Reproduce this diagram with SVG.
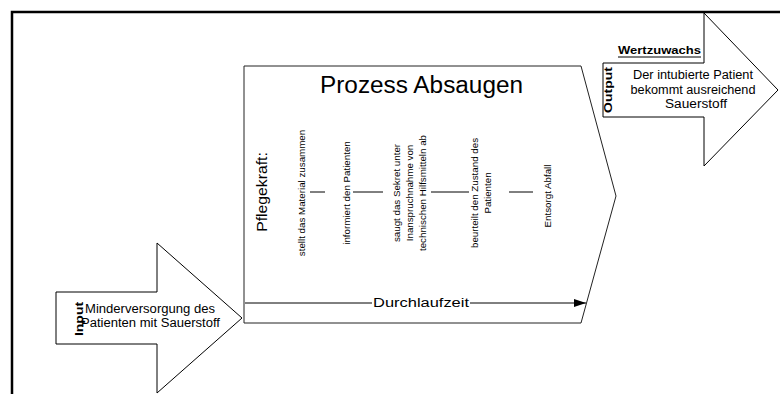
<svg xmlns="http://www.w3.org/2000/svg" width="780" height="394" viewBox="0 0 780 394">
  <style>
    text { font-family: "Liberation Sans", Arial, sans-serif; fill: #000; }
    .shape { fill: #fff; stroke: #000; stroke-width: 1; }
    .proc { fill: #fff; stroke: #222; stroke-width: 1; }
    .frame { fill: none; stroke: #000; stroke-width: 2.5; }
    .title { font-size: 23px; }
    .body { font-size: 12.5px; }
    .bold { font-weight: bold; }
    .step { font-size: 8.5px; }
    .conn { stroke: #000; stroke-width: 1; fill: none; }
  </style>
  <defs>
    <marker id="arrowhead" viewBox="0 0 12 8" refX="12" refY="4" markerWidth="12" markerHeight="8" markerUnits="userSpaceOnUse" orient="auto">
      <path d="M0,0 L12,4 L0,8 Z" fill="#000"/>
    </marker>
  </defs>

  <rect width="780" height="394" fill="#fff"/>

  <!-- outer frame -->
  <path class="frame" d="M12,394 V12 H780"/>

  <!-- input arrow -->
  <g id="input">
    <path class="shape" d="M56,292 H157 V243 L242,318 L157,393 V344 H56 Z"/>
    <text class="bold" font-size="10" transform="translate(83,319) rotate(-90) scale(1.4,1)" text-anchor="middle">Input</text>
    <text class="body" x="85" y="313" textLength="130" lengthAdjust="spacingAndGlyphs">Minderversorgung des</text>
    <text class="body" x="81" y="327" textLength="139" lengthAdjust="spacingAndGlyphs">Patienten mit Sauerstoff</text>
  </g>

  <!-- process -->
  <g id="process">
    <path class="proc" d="M244,66 H581 L616,196 L581,323 H244 Z"/>
    <text class="title" x="421.5" y="93" text-anchor="middle" textLength="203" lengthAdjust="spacingAndGlyphs">Prozess Absaugen</text>
    <text font-size="15" transform="translate(267,192) rotate(-90) scale(1.05,1)" text-anchor="middle">Pflegekraft:</text>
  </g>

  <g id="step1">
    <text class="step" transform="translate(305,193) rotate(-90) scale(1.15,1)" text-anchor="middle">stellt das Material zusammen</text>
  </g>
  <g id="step2">
    <text class="step" transform="translate(350,193) rotate(-90) scale(1.15,1)" text-anchor="middle">informiert den Patienten</text>
  </g>
  <g id="step3">
    <text class="step" transform="translate(400,193) rotate(-90) scale(1.15,1)" text-anchor="middle">saugt das Sekret unter</text>
    <text class="step" transform="translate(413,193) rotate(-90) scale(1.15,1)" text-anchor="middle">Inanspruchnahme von</text>
    <text class="step" transform="translate(426,193) rotate(-90) scale(1.15,1)" text-anchor="middle">technischen Hilfsmitteln ab</text>
  </g>
  <g id="step4">
    <text class="step" transform="translate(478,193) rotate(-90) scale(1.15,1)" text-anchor="middle">beurteilt den Zustand des</text>
    <text class="step" transform="translate(491,193) rotate(-90) scale(1.15,1)" text-anchor="middle">Patienten</text>
  </g>
  <g id="step5">
    <text class="step" transform="translate(551,196) rotate(-90) scale(1.15,1)" text-anchor="middle">Entsorgt Abfall</text>
  </g>

  <!-- output arrow -->
  <g id="output">
    <path class="shape" d="M603,63 H704 V13 L778,90 L704,166 V117 H603 Z"/>
    <text class="bold" font-size="10" x="618" y="54" textLength="83" lengthAdjust="spacingAndGlyphs">Wertzuwachs</text>
    <line x1="618" y1="57" x2="701" y2="57" stroke="#000" stroke-width="1"/>
    <text class="bold" font-size="10" transform="translate(612,90) rotate(-90) scale(1.4,1)" text-anchor="middle">Output</text>
    <text font-size="12" x="693" y="79" text-anchor="middle" textLength="120" lengthAdjust="spacingAndGlyphs">Der intubierte Patient</text>
    <text font-size="12" x="693" y="93.5" text-anchor="middle" textLength="125" lengthAdjust="spacingAndGlyphs">bekommt ausreichend</text>
    <text font-size="12" x="696" y="108" text-anchor="middle" textLength="62" lengthAdjust="spacingAndGlyphs">Sauerstoff</text>
  </g>

  <!-- connectors -->
  <g id="connectors">
    <line class="conn" x1="310" y1="192" x2="325" y2="192"/>
    <line class="conn" x1="353" y1="192" x2="383" y2="192"/>
    <line class="conn" x1="431" y1="192" x2="469" y2="192"/>
    <line class="conn" x1="509" y1="192" x2="533" y2="192"/>
    <line class="conn" x1="245" y1="303" x2="372" y2="303"/>
    <line class="conn" x1="470" y1="303" x2="586" y2="303" marker-end="url(#arrowhead)"/>
    <text class="body" x="421" y="307" text-anchor="middle" textLength="96" lengthAdjust="spacingAndGlyphs">Durchlaufzeit</text>
  </g>
</svg>
